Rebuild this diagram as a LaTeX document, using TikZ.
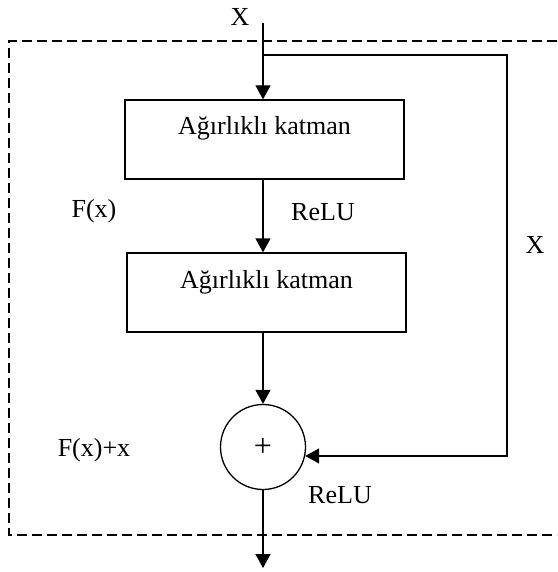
\documentclass[tikz,border=0pt]{standalone}
\usepackage{fontspec}
\setmainfont{Liberation Serif}
\usetikzlibrary{arrows.meta}
\begin{document}
\begin{tikzpicture}[x=1pt,y=-1pt,
  font=\fontsize{26}{30}\selectfont,
  line width=1.3pt,
  arr/.style={-{Triangle[width=15pt,length=14pt]}},
  layerbox/.style={draw, rectangle, minimum width=279pt, minimum height=79pt,
    inner sep=0pt, text height=30pt, text depth=39pt},
  frame/.style={dashed, dash pattern=on 10pt off 5pt, line width=1.2pt},
  lbl/.style={inner sep=0pt}]
\useasboundingbox (0,0) rectangle (557,572);
% dashed frame
\coordinate (f1) at (557,41);
\coordinate (f2) at (9,41);
\coordinate (f3) at (9,535);
\coordinate (f4) at (557,535);
\draw[frame] (f1) -- (f2) -- (f3) -- (f4);
% nodes
\node[layerbox] (b1) at (264.5,139.5) {Ağırlıklı katman};
\node[layerbox] (b2) at (266.5,292.5) {Ağırlıklı katman};
\node[draw, circle, minimum size=85pt, inner sep=0pt, font=\fontsize{32}{36}\selectfont] (c) at (263,447) {+};
\coordinate (xin) at (263,23);
\coordinate (split) at (263,55);
\coordinate (sr) at (507,55);
\coordinate (out) at (263,568);
% labels
\node[lbl] (xtop) at (240,17) {X};
\node[lbl] (xright) at (535,245) {X};
\node[lbl] (fx) at (94,211) {F(x)};
\node[lbl] (fxx) at (94,450) {F(x)+x};
\node[lbl] (relu1) at (323,212) {ReLU};
\node[lbl] (relu2) at (340,495) {ReLU};
% connectors
\draw[arr] (xin) -- (xin |- b1.north);
\draw[arr] (split) -- (sr) -- (sr |- c.-12) -- (c.-12);
\draw[arr] (b1.south -| c.center) -- (b2.north -| c.center);
\draw[arr] (b2.south -| c.center) -- (c.north);
\draw[arr] (c.south) -- (out);
\end{tikzpicture}
\end{document}
